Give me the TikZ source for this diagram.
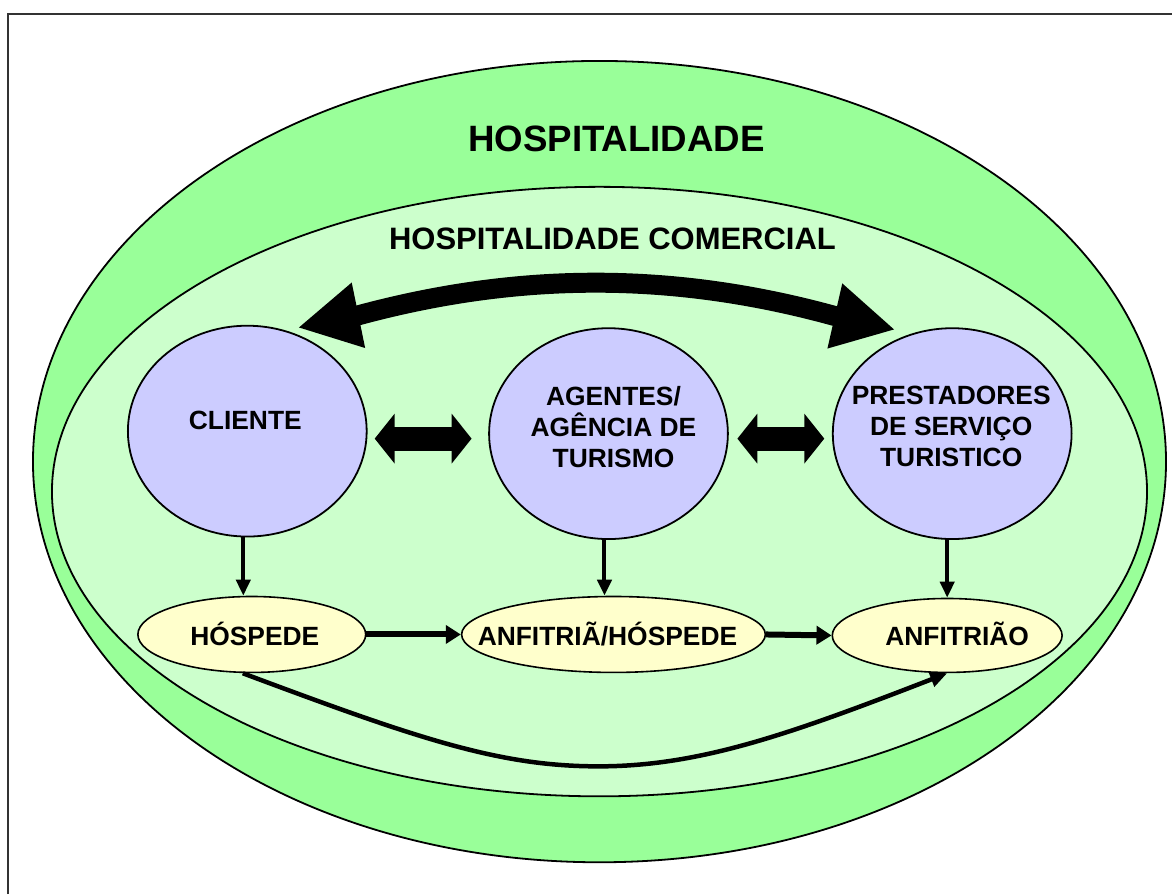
\documentclass[tikz,border=0pt]{standalone}
\usepackage{fontspec}
\setmainfont{Liberation Sans}
\usetikzlibrary{shapes.geometric,arrows.meta}
\definecolor{outerg}{HTML}{99FF99}
\definecolor{innerg}{HTML}{CCFFCC}
\definecolor{lav}{HTML}{CCCCFF}
\definecolor{pale}{HTML}{FFFFCC}
\begin{document}
\begin{tikzpicture}[x=1pt,y=-1pt,
  zone/.style={ellipse, draw=black, line width=1.8pt, inner sep=0pt},
  actor/.style={ellipse, draw=black, line width=1.8pt, fill=lav, minimum width=239pt, minimum height=211pt, inner sep=0pt},
  role/.style={ellipse, draw=black, line width=1.6pt, fill=pale, minimum height=76pt, inner sep=0pt},
  lbl/.style={inner sep=0pt, font=\bfseries\fontsize{26.4}{31}\selectfont, align=center},
  down/.style={line width=4pt, -{Triangle[length=16pt,width=14pt]}},
  flow/.style={line width=6pt, -{Triangle[length=15pt,width=18pt]}},
  curv/.style={line width=4.5pt, -{Triangle[length=17pt,width=15pt]}},
  dbl/.style={line width=24pt, {Triangle[length=20pt,width=49pt]}-{Triangle[length=20pt,width=49pt]}},
  big/.style={line width=20pt, line join=round, {Triangle[length=62pt,width=62pt]}-{Triangle[length=62pt,width=62pt]}}
]
\fill[white] (0,0) rectangle (1173,895);
\draw[line width=2pt, black!80] (8,895) -- (8,14) -- (1173,14);

% zones
\node[zone, fill=outerg, minimum width=1134pt, minimum height=802pt] (hosp) at (600,462) {};
\node[zone, fill=innerg, minimum width=1096pt, minimum height=610pt] (com) at (600,492) {};
\node[inner sep=0pt, anchor=base, font=\bfseries\fontsize{36.7}{40}\selectfont] (hospT) at (617,152) {HOSPITALIDADE};
\node[inner sep=0pt, anchor=base, font=\bfseries\fontsize{31}{34}\selectfont] (comT) at (613,250) {HOSPITALIDADE COMERCIAL};

% actors
\node[actor] (cli) at (247.5,431.5) {};
\node[actor] (agt) at (609,434) {};
\node[actor] (pre) at (953,434) {};
\node[lbl, anchor=base] (cliT) at (245.5,430) {CLIENTE};
\node[lbl] (agtT) at (614,427) {AGENTES/\\AGÊNCIA DE\\TURISMO};
\node[lbl] (preT) at (952,427) {PRESTADORES\\DE SERVIÇO\\TURISTICO};

% roles
\node[role, minimum width=228pt] (hos) at (252,635) {};
\node[role, minimum width=304pt] (anfh) at (614,635) {};
\node[role, minimum width=230pt, minimum height=74pt] (anfo) at (948,636) {};
\node[lbl, anchor=base] (hosT) at (255,646.5) {HÓSPEDE};
\node[lbl, anchor=base] (anfhT) at (608,646.5) {ANFITRIÃ/HÓSPEDE};
\node[lbl, anchor=base] (anfoT) at (958,646) {ANFITRIÃO};

% big double arrow
\coordinate (bigL) at (298,328);
\coordinate (baseL) at (359,315.5);
\coordinate (baseR) at (834.5,316);
\coordinate (bigR) at (896,330);
\draw[big] (bigL) -- (baseL) .. controls (520,272) and (674,272) .. (baseR) -- (bigR);

% small double arrows
\coordinate (d1a) at (375,439);
\coordinate (d1b) at (472,439);
\coordinate (d2a) at (738,439);
\coordinate (d2b) at (825,439);
\draw[dbl] (d1a) -- (d1b);
\draw[dbl] (d2a) -- (d2b);

% down arrows
\draw[down] ([xshift=-4pt]cli.south) -- ([xshift=-4pt]cli.south |- hos.north);
\draw[down] ([xshift=-4pt]agt.south) -- ([xshift=-4pt]agt.south |- anfh.north);
\draw[down] ([xshift=-5pt]pre.south) -- ([xshift=-5pt]pre.south |- anfo.north);

% flow arrows
\draw[flow] (hos.east) -- (anfh.west);
\draw[flow] (anfh.east) -- (anfo.west);

% curved arrow
\coordinate (bot) at (599,767);
\draw[curv] ([xshift=-9pt]hos.south) .. controls (420,740) and (500,767) .. (bot) .. controls (700,767) and (790,735) .. (anfo.south);
\end{tikzpicture}
\end{document}
